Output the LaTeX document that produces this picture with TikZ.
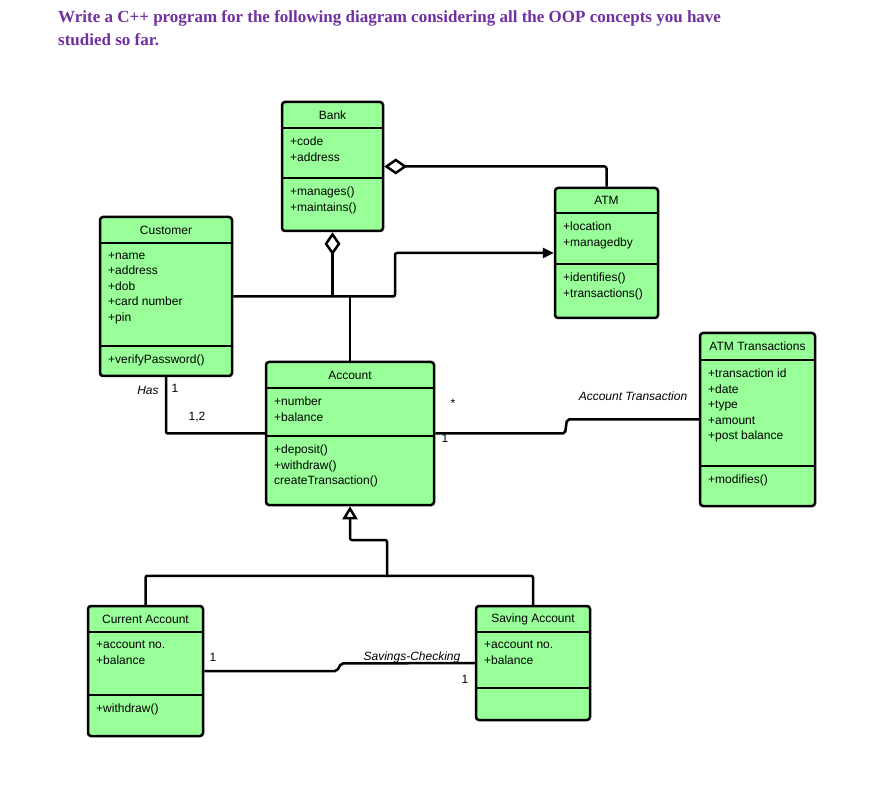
\documentclass[tikz,border=0pt]{standalone}
\usepackage{fontspec}
\setmainfont{Liberation Sans}
\newfontfamily\titlefont{Liberation Serif}
\usetikzlibrary{arrows.meta}
\definecolor{boxg}{HTML}{99FF99}
\definecolor{ttl}{HTML}{7030A0}
\newcommand{\umlcls}[9]{%
  \node[box, minimum width=#4-#2, minimum height=#5-#3] (#1) at ({(#2+#4)/2},{(#3+#5)/2}) {};
  \draw[sep] (#2,#6) -- (#4,#6);
  \draw[sep] (#2,#7) -- (#4,#7);
  \node[txt, anchor=center] at ({(#2+#4)/2},{(#3+#6)/2}) {#8};
  \node[txt, anchor=north west, align=left] at (#2+8,#6+9) {#9};
}
\newcommand{\umlmeth}[3]{\node[txt, anchor=north west, align=left] at (#1+8,#2+9) {#3};}
\begin{document}
\begin{tikzpicture}[x=1pt,y=-1pt,
  box/.style={draw, line width=2.5pt, fill=boxg, rounded corners=3pt, inner sep=0pt},
  sep/.style={line width=2.5pt},
  txt/.style={inner sep=0pt, font=\fontsize{12}{15.5}\selectfont},
  lbl/.style={inner sep=0pt, font=\fontsize{12}{14}\selectfont},
  con/.style={line width=2.5pt, rounded corners=2pt},
  agg/.style={con, -{Diamond[open, length=23pt, width=16pt, line width=2.5pt, fill=white]}},
  inh/.style={con, -{Triangle[open, length=13pt, width=15pt, line width=2.5pt, fill=white]}},
  nav/.style={con, -{Triangle[length=11pt, width=10pt]}}]
\useasboundingbox (0,0) rectangle (895,786);
\node[anchor=north west, inner sep=0pt, align=left, text=ttl, font=\titlefont\bfseries\fontsize{17}{23}\selectfont] (title) at (58,10) {Write a C++ program for the following diagram considering all the OOP concepts you have\\studied so far.};

\umlcls{bank}{282}{102}{383}{231}{128}{178}{Bank}{+code\\+address}
\umlmeth{282}{178}{+manages()\\+maintains()}
\umlcls{atm}{555}{188}{658}{318}{213}{264}{ATM}{+location\\+managedby}
\umlmeth{555}{264}{+identifies()\\+transactions()}
\umlcls{cust}{100}{217}{232}{376}{243}{346}{Customer}{+name\\+address\\+dob\\+card number\\+pin}
\umlmeth{100}{346}{+verifyPassword()}
\umlcls{acc}{266}{362}{434}{505}{388}{436}{Account}{+number\\+balance}
\umlmeth{266}{436}{+deposit()\\+withdraw()\\createTransaction()}
\umlcls{trans}{700}{333}{815}{506}{360}{466}{ATM Transactions}{+transaction id\\+date\\+type\\+amount\\+post balance}
\umlmeth{700}{466}{+modifies()}
\umlcls{cur}{88}{606}{203}{736}{632}{695}{Current Account}{+account no.\\+balance}
\umlmeth{88}{695}{+withdraw()}
\umlcls{sav}{476}{606}{590}{720}{632}{688}{Saving Account}{+account no.\\+balance}

\coordinate (j1) at (395,296.5);
\coordinate (j2) at (332.5,296.5);
\draw[agg] (atm.north) |- (bank.east);
\draw[agg] (j2) -- (bank.south);
\draw[nav] (cust.east) -- (j1) |- (atm.west);
\draw[con] (acc.north) -- (acc.north |- cust.east);
\draw[con] (cust.south) |- (acc.west);
\draw[con] (acc.east) -- (565,433.5) -- (567,419.5) -- (trans.west);
\draw[con] (cur.north) -- ++(0,-29) -| (sav.north);
\draw[inh] (387,577) -- (387,540) -- (acc.south |- 0,540) -- (acc.south);
\draw[con] (cur.east) -- (337,671) -- (341,663.5) -- (sav.west);

\node[lbl, font=\itshape\fontsize{12}{14}\selectfont] (has) at (148,390) {Has};
\node[lbl] (m1) at (175,388) {1};
\node[lbl] (m2) at (197,417) {1,2};
\node[lbl] (m3) at (453,403) {*};
\node[lbl] (m4) at (445,438) {1};
\node[lbl, font=\itshape\fontsize{12}{14}\selectfont] (at) at (633,396) {Account Transaction};
\node[lbl] (m5) at (213,657) {1};
\node[lbl, font=\itshape\fontsize{12}{14}\selectfont] (sc) at (412,657) {Savings-Checking};
\node[lbl] (m6) at (465,679) {1};
\end{tikzpicture}
\end{document}
